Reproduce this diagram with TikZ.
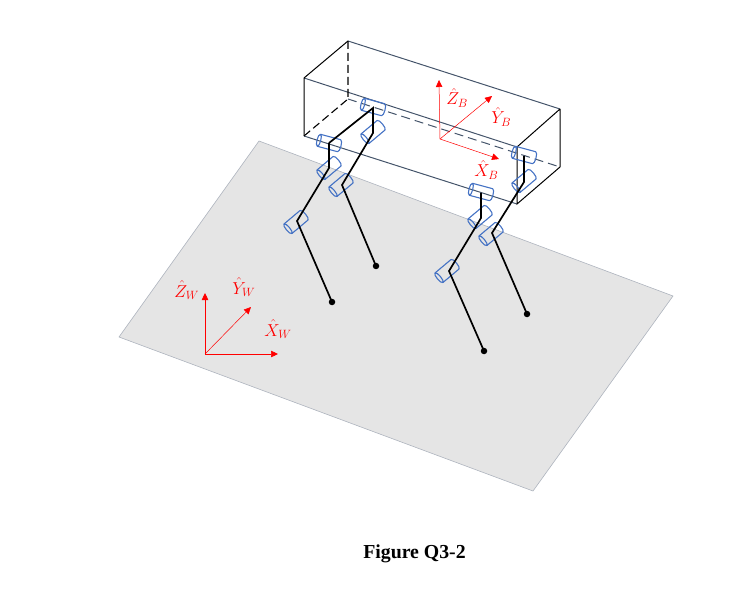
\documentclass[tikz,border=0pt]{standalone}
\usepackage{fontspec}
\setmainfont{Liberation Serif}
\usetikzlibrary{arrows.meta}
\definecolor{jointblue}{HTML}{4472C4}
\definecolor{edgeslate}{HTML}{44546A}
\definecolor{groundgray}{HTML}{E5E5E5}
\definecolor{groundedge}{HTML}{AEB4BE}
\tikzset{
  joint/.pic={
    \draw[jointblue,line width=1.1pt,line join=round]
      (-10.5,6.2)..controls (-13,6.2) and (-13,-6.2)..(-10.5,-6.2)
      ..controls (-8,-6.2) and (-8,6.2)..(-10.5,6.2)
      --(10.5,6.2)..controls (13,6.2) and (13,-6.2)..(10.5,-6.2)--(-10.5,-6.2);
  },
  axisline/.style={red,line width=0.5pt,-{Triangle[length=7pt,width=6.5pt]}},
  axislabel/.style={red,font=\fontsize{17.5}{20}\selectfont,inner sep=0pt,anchor=base west},
  leg/.style={black,line width=1.7pt,line join=miter},
  foot/.style={circle,fill=black,minimum size=6.5pt,inner sep=0pt}
}
\begin{document}
\begin{tikzpicture}[x=1pt,y=-1pt,semithick]
\useasboundingbox (0,0) rectangle (751,593);
% ground plane
\coordinate (G1) at (259,141);
\coordinate (G2) at (673,296);
\coordinate (G3) at (533,491);
\coordinate (G4) at (119,337);
\filldraw[fill=groundgray,draw=groundedge,line width=0.6pt](G1)--(G2)--(G3)--(G4)--cycle;
% body box
\coordinate (A) at (304,78);
\coordinate (B) at (348,41);
\coordinate (C) at (560,109);
\coordinate (D) at (517,147);
\coordinate (E) at (304,136);
\coordinate (F) at (348,99);
\coordinate (H) at (560,167);
\coordinate (K) at (517,204);
\draw[edgeslate,line width=1pt](A)--(D)(B)--(C)(E)--(K);
\draw[edgeslate,line width=1pt,dash pattern=on 9pt off 5pt](F)--(H);
\draw[black,line width=1pt](B)--(A)--(E)(C)--(D)--(K)--(H)--(C);
\draw[black,line width=1.1pt,dash pattern=on 8pt off 4pt](B)--(F)(E)--(F);
% joints
\pic[rotate=-15] (J1) at (373,107) {joint};
\pic[rotate=-15] (J2) at (329,143) {joint};
\pic[rotate=-15] (J7) at (524,155) {joint};
\pic[rotate=-15] (J8) at (481,192) {joint};
\pic[rotate=40] (J3) at (373,132) {joint};
\pic[rotate=40] (J4) at (329,168) {joint};
\pic[rotate=40] (J5) at (341,185) {joint};
\pic[rotate=40] (J6) at (296,222) {joint};
\pic[rotate=40] (J9) at (524,181) {joint};
\pic[rotate=40] (J10) at (480,217) {joint};
\pic[rotate=40] (J11) at (491,234) {joint};
\pic[rotate=40] (J12) at (447,271) {joint};
% feet
\node[foot] (P1) at (376,266) {};
\node[foot] (P2) at (332,302) {};
\node[foot] (P3) at (527,314) {};
\node[foot] (P4) at (484,351) {};
% legs
\coordinate (K1) at (373,108);
\coordinate (K2) at (329,143);
\coordinate (K3) at (524,156);
\coordinate (K4) at (481,193);
\draw[leg](K2)--(K1)--(373,133)--(342,185)--(P1.center);
\draw[leg](K2)--(329,168)--(297,221)--(P2.center);
\draw[leg](K3)--(524,182)--(492,233)--(P3.center);
\draw[leg](K4)--(481,218)--(449,271)--(P4.center);
% body frame
\coordinate (OB) at (440,139);
\coordinate (ZB) at (439,80);
\coordinate (YB) at (492,96);
\coordinate (XB) at (499,159);
\draw[axisline](OB)--(ZB);
\draw[axisline](OB)--(YB);
\draw[axisline](OB)--(XB);
\node[axislabel] (LZB) at (446,105) {$\hat{Z}_B$};
\node[axislabel] (LYB) at (491,124) {$\hat{Y}_B$};
\node[axislabel] (LXB) at (474,177) {$\hat{X}_B$};
% world frame
\coordinate (OW) at (205,354);
\coordinate (ZW) at (205,293);
\coordinate (YW) at (251,307);
\coordinate (XW) at (278,354);
\draw[axisline](OW)--(ZW);
\draw[axisline](OW)--(YW);
\draw[axisline](OW)--(XW);
\node[axislabel] (LZW) at (174,297) {$\hat{Z}_W$};
\node[axislabel] (LYW) at (232,294) {$\hat{Y}_W$};
\node[axislabel] (LXW) at (264,336) {$\hat{X}_W$};
% caption
\node[font=\fontsize{19.8}{22}\selectfont\bfseries,inner sep=0pt,anchor=base] (Cap) at (414.5,558) {Figure Q3-2};
\end{tikzpicture}
\end{document}
